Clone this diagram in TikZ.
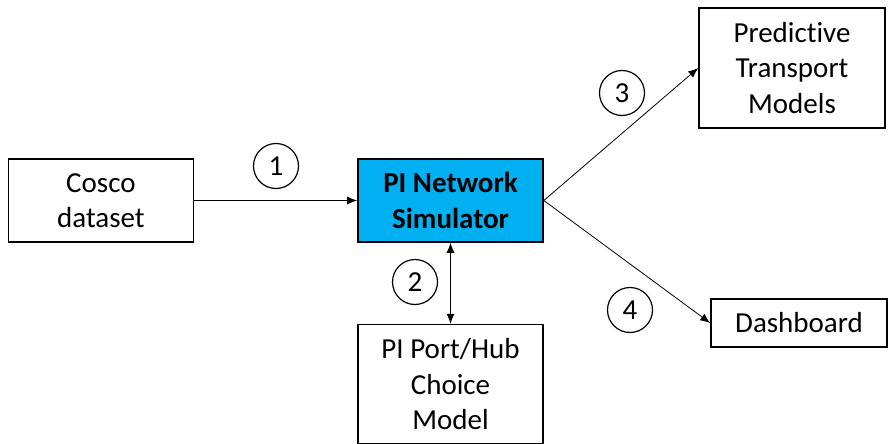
\documentclass[tikz,border=0pt]{standalone}
\usepackage{fontspec}
\setmainfont[Ligatures=NoCommon]{Carlito}
\usetikzlibrary{positioning, arrows.meta}
\definecolor{simblue}{HTML}{00B0F0}

\tikzset{
  block/.style = {draw, line width=1.6pt, align=center, inner sep=0pt,
                  minimum width=185pt, minimum height=83pt,
                  font=\fontsize{29}{35.5}\selectfont},
  stepnum/.style = {draw, circle, line width=1.2pt, inner sep=0pt,
                    minimum size=45pt, font=\fontsize{29}{35.5}\selectfont},
  link/.style = {line width=0.8pt}
}

\begin{document}
\begin{tikzpicture}[x=1pt, y=1pt, >={Latex[length=10pt,width=8pt]}, node distance=2cm]
    \useasboundingbox (0,0) rectangle (889,-444);

    \node[block, fill=simblue, font=\fontsize{29}{35.5}\selectfont\bfseries] (sim) at (450.5,-200.5) {PI Network\\Simulator};
    \node[block] (cosco) [left = 163pt of sim] {Cosco\\dataset};
    \node[block, minimum height=119pt] (port) [below = 81pt of sim] {PI Port/Hub\\Choice\\Model};
    \node[block, minimum width=186pt, minimum height=120pt] (pred) at (792,-68) {Predictive\\Transport\\Models};
    \node[block, minimum width=176pt, minimum height=48pt] (dash) at (799,-323) {Dashboard};

    \node[stepnum] (n1) at (276,-166) {1};
    \node[stepnum] (n2) at (415,-282) {2};
    \node[stepnum] (n3) at (622,-93) {3};
    \node[stepnum] (n4) at (630,-310) {4};

    \path[link]
      (cosco) edge[->] (sim)
      (sim) edge[<->] (port)
      (sim.east) edge[->] (pred.west)
      (sim.east) edge[->] (dash.west)
    ;
\end{tikzpicture}
\end{document}
